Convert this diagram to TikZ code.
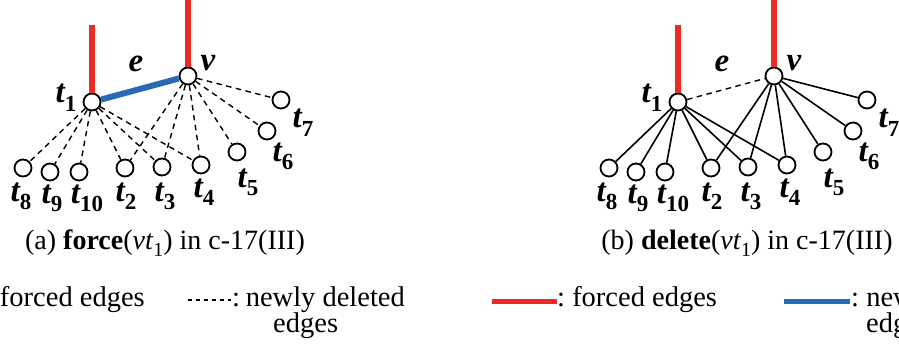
\documentclass[tikz,border=0pt]{standalone}
\usepackage{fontspec}
\setmainfont{Liberation Serif}
\definecolor{fred}{RGB}{238,42,36}
\definecolor{fblue}{RGB}{40,106,180}
\newcommand\tsub[2]{#1\raisebox{-0.25em}{\fontsize{23}{23}\selectfont\upshape #2}}
\newcommand\csub[2]{#1\raisebox{-0.25em}{\fontsize{20}{20}\selectfont\upshape #2}}
\tikzset{
  vtx/.style={circle,draw,line width=1.8pt,minimum size=17pt,inner sep=0pt,fill=white},
  lab/.style={inner sep=0pt,anchor=base,font=\rmfamily\fontsize{33}{33}\selectfont\bfseries\itshape},
  deledge/.style={line width=1.4pt,dash pattern=on 5.5pt off 4.5pt},
  soledge/.style={line width=1.6pt},
  forcededge/.style={line width=6.5pt,fred},
  newforced/.style={line width=6pt,fblue},
  captext/.style={inner sep=0pt,anchor=base,font=\rmfamily\fontsize{28}{28}\selectfont},
  legtext/.style={inner sep=0pt,font=\rmfamily\fontsize{28.5}{28.5}\selectfont},
}
\begin{document}
\begin{tikzpicture}[x=1pt,y=-1pt]
\useasboundingbox (0,0) rectangle (899,350);
\clip (0,0) rectangle (899,350);
\foreach \p/\dx/\es in {a/0/deledge,b/586/soledge}{
  \begin{scope}[xshift=\dx pt]
    \node[vtx] (\p t1) at (92,102) {};
    \node[vtx] (\p v) at (188,76) {};
    \node[vtx] (\p t8) at (23,168) {};
    \node[vtx] (\p t9) at (50,172) {};
    \node[vtx] (\p t10) at (79,172) {};
    \node[vtx] (\p t2) at (125,168) {};
    \node[vtx] (\p t3) at (162,167) {};
    \node[vtx] (\p t4) at (201,165) {};
    \node[vtx] (\p t5) at (237,152) {};
    \node[vtx] (\p t6) at (267,131) {};
    \node[vtx] (\p t7) at (281,100) {};
    \coordinate (\p t1top) at (92,25);
    \coordinate (\p vtop) at (188,0);
    \draw[forcededge] (\p t1top) -- (\p t1);
    \draw[forcededge] (\p vtop) -- (\p v);
    \foreach \q in {t8,t9,t10,t2,t3,t4}{\draw[\es] (\p t1) -- (\p\q);}
    \foreach \q in {t2,t3,t4,t5,t6,t7}{\draw[\es] (\p v) -- (\p\q);}
    \node[lab] (\p lt1) at (66,103) {\tsub{t}{1}};
    \node[lab] (\p lv) at (208,71) {v};
    \node[lab] (\p le) at (136,72) {e};
    \node[lab] (\p lt8) at (21,201) {\tsub{t}{8}};
    \node[lab] (\p lt9) at (52,203) {\tsub{t}{9}};
    \node[lab] (\p lt10) at (87,203) {\tsub{t}{10}};
    \node[lab] (\p lt2) at (126,201) {\tsub{t}{2}};
    \node[lab] (\p lt3) at (165,201) {\tsub{t}{3}};
    \node[lab] (\p lt4) at (204,197) {\tsub{t}{4}};
    \node[lab] (\p lt5) at (248,187) {\tsub{t}{5}};
    \node[lab] (\p lt6) at (283,161) {\tsub{t}{6}};
    \node[lab] (\p lt7) at (303,128) {\tsub{t}{7}};
  \end{scope}
}
\draw[newforced] (at1) -- (av);
\draw[deledge] (bt1) -- (bv);
\node[captext] (capa) at (165,249) {(a) \textbf{force}(\textit{v}\csub{\textit{t}}{1}) in c-17(III)};
\node[captext] (capb) at (747,249) {(b) \textbf{delete}(\textit{v}\csub{\textit{t}}{1}) in c-17(III)};
% legends
\node[legtext,anchor=base east] (l1) at (145,306) {: forced edges};
\coordinate (d1) at (188,300);
\coordinate (d2) at (231,300);
\draw[line width=1.2pt,dash pattern=on 4pt off 4pt] (d1) -- (d2);
\node[legtext,anchor=base west] (l2) at (232,306) {:\hspace{0.2em}newly deleted};
\node[legtext,anchor=base west] (l3) at (273,332) {edges};
\coordinate (r1) at (492,301);
\coordinate (r2) at (557,301);
\draw[line width=5pt,fred] (r1) -- (r2);
\node[legtext,anchor=base west] (l4) at (557,306) {:\hspace{0.25em}forced edges};
\coordinate (b1) at (784,301);
\coordinate (b2) at (850,301);
\draw[line width=5pt,fblue] (b1) -- (b2);
\node[legtext,anchor=base west] (l5) at (851,306) {:\hspace{0.25em}newly forced};
\node[legtext,anchor=base west] (l6) at (866,332) {edges};
\end{tikzpicture}
\end{document}
